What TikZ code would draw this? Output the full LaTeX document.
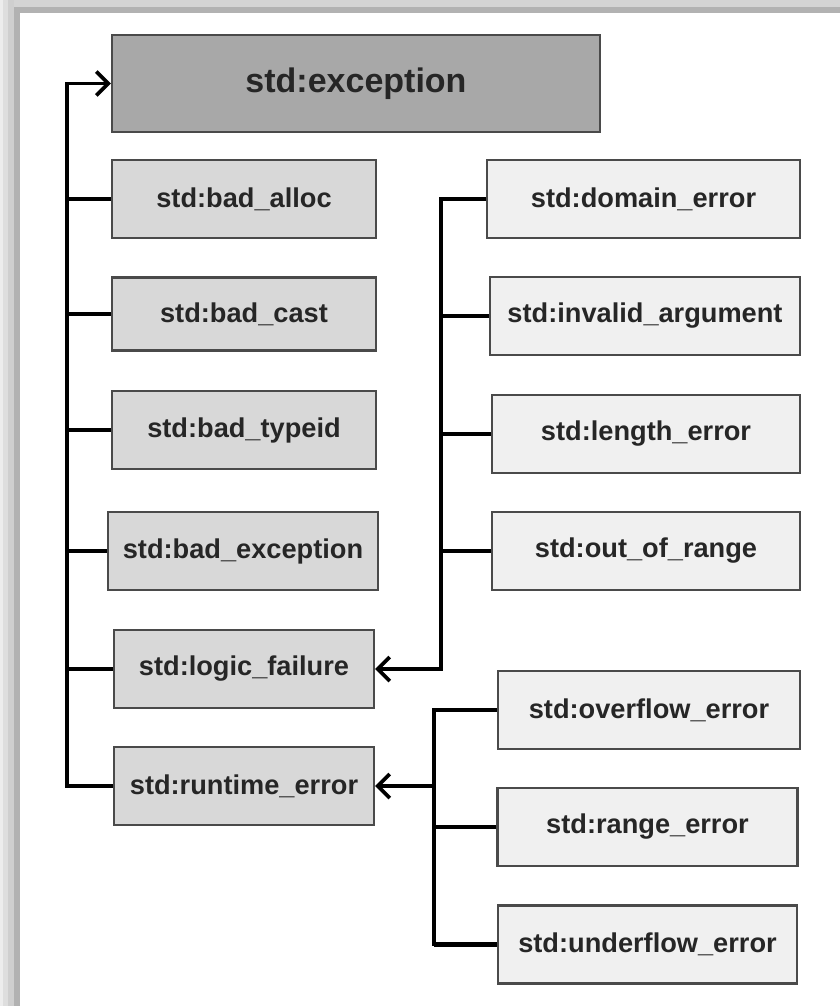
\documentclass[tikz,border=0pt]{standalone}
\usepackage{fontspec}
\setmainfont{Liberation Sans}
\usepackage{tikz}
\usetikzlibrary{arrows.meta}

\definecolor{darkbox}{HTML}{A8A8A8}
\definecolor{midbox}{HTML}{D8D8D8}
\definecolor{lightbox}{HTML}{F0F0F0}
\definecolor{boxline}{HTML}{4A4A4A}
\definecolor{txt}{HTML}{262626}

\begin{document}
\begin{tikzpicture}[x=0.5pt,y=-0.5pt,
    box/.style={draw=boxline,line width=1.2pt,text=txt,inner sep=0pt,
        font=\bfseries\fontsize{13.6}{16}\selectfont,minimum height=39pt},
    basebox/.style={box,fill=midbox,minimum width=132pt},
    logicbox/.style={box,fill=lightbox,minimum width=155pt},
    runbox/.style={box,fill=lightbox,minimum width=150pt},
    link/.style={line width=1.6pt,black},
    stub/.style={line width=2.2pt,black},
    tip/.style={-{Straight Barb[length=6pt,width=12pt,line width=1.8pt]}}]
    \useasboundingbox (0,0) rectangle (840,1006);
    % frame
    \fill[white] (0,0) rectangle (840,1006);
    \fill[black!17] (0,0) rectangle (840,7);
    \fill[black!30] (0,7) rectangle (840,13);
    \fill[black!7] (0,0) rectangle (3,1006);
    \fill[black!13] (3,0) rectangle (8,1006);
    \fill[black!19] (8,0) rectangle (14,1006);
    \fill[black!30] (14,13) rectangle (20,1006);
    
    \node[box,fill=darkbox,minimum width=244pt,minimum height=48.5pt,
        font=\bfseries\fontsize{17}{20}\selectfont] (exc) at (356,83.5) {std:exception};
    
    \node[basebox] (alloc) at (244,199) {std:bad\_alloc};
    \node[basebox,minimum height=36.5pt] (cast) at (244,314) {std:bad\_cast};
    \node[basebox] (typeid) at (244,430) {std:bad\_typeid};
    \node[basebox,minimum width=135pt] (badexc) at (243,551) {std:bad\_exception};
    \node[basebox,minimum width=130pt] (logic) at (244,669) {std:logic\_failure};
    \node[basebox,minimum width=130pt] (runtime) at (244,786) {std:runtime\_error};
    
    \node[logicbox,minimum width=156.5pt] (domain) at (643.5,199) {std:domain\_error};
    \node[logicbox] (invalid) at (645,316) {std:invalid\_argument};
    \node[logicbox,minimum width=154pt] (length) at (646,434) {std:length\_error};
    \node[logicbox,minimum width=154pt] (range) at (646,551) {std:out\_of\_range};
    
    \node[runbox,minimum width=151pt] (overflow) at (649,710) {std:overflow\_error};
    \node[runbox] (rangeerr) at (647.5,827) {std:range\_error};
    \node[runbox,minimum width=149.5pt] (underflow) at (647.5,944.5) {std:underflow\_error};
    
    \coordinate (ltrunk) at (67,0);
    \coordinate (mtrunk) at (441,0);
    \coordinate (rtrunk) at (434,0);
    
    %base classes
    \draw[link,tip] (runtime.west) -| (ltrunk |- exc.west) -- (exc.west);
    \foreach \n in {alloc,cast,typeid,badexc,logic,runtime}
        \draw[stub] (\n.west) -- (\n.west -| ltrunk);
    %logic errors
    \draw[link,tip] (domain.west) -| (mtrunk |- logic.east) -- (logic.east);
    \foreach \n in {domain,invalid,length,range}
        \draw[stub] (\n.west) -- (\n.west -| mtrunk);
    %runtime errors
    \draw[link] (overflow.west) -| (rtrunk |- underflow.west) -- (underflow.west);
    \foreach \n in {overflow,rangeerr,underflow}
        \draw[stub] (\n.west) -- (\n.west -| rtrunk);
    \draw[link,tip] (runtime.east -| rtrunk) -- (runtime.east);
\end{tikzpicture}
\end{document}
